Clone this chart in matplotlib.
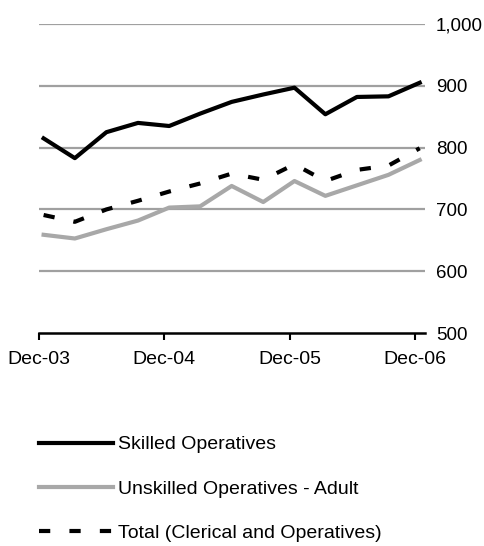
import numpy as np
import pandas as pd
import matplotlib
matplotlib.use('Agg')
import matplotlib.pyplot as plt
import matplotlib.dates as mdates
from matplotlib.ticker import FuncFormatter

plt.rcParams['font.family'] = ['Liberation Sans', 'DejaVu Sans']

# quarterly observations, Dec-03 .. Dec-06
dates = pd.date_range('2003-12-15', periods=13, freq=pd.DateOffset(months=3))
skilled = [815, 783, 825, 840, 835, 855, 874, 886, 897, 854, 882, 883, 905]
unskilled = [659, 653, 668, 682, 703, 705, 738, 712, 746, 722, 739, 756, 780]
total = [691, 680, 700, 714, 729, 742, 758, 748, 773, 746, 764, 771, 799]
labels = ['Skilled Operatives', 'Unskilled Operatives - Adult',
          'Total (Clerical and Operatives)']
tick_dates = pd.to_datetime(['2003-12-01', '2004-12-01', '2005-12-01', '2006-12-01'])

fig = plt.figure(figsize=(4.85, 5.46), dpi=100)
ax = fig.add_axes([0.080, 0.390, 0.796, 0.566])

for v in range(600, 1001, 100):
    ax.axhline(v, color='#a0a0a0', lw=1.6, zorder=1)

ax.plot(dates, skilled, color='black', lw=3.0, label=labels[0], zorder=3)
ax.plot(dates, unskilled, color='#a8a8a8', lw=3.0, label=labels[1], zorder=2)
ax.plot(dates, total, color='black', lw=3.0, dashes=(2.7, 4.6),
        label=labels[2], zorder=3)

ax.set_ylim(500, 1000)
ax.set_xlim(pd.Timestamp('2003-12-01'), pd.Timestamp('2006-12-30'))
ax.set_xticks(tick_dates)
ax.xaxis.set_major_formatter(mdates.DateFormatter('Dec-%y'))

ax.yaxis.tick_right()
ax.set_yticks(range(500, 1001, 100))
ax.yaxis.set_major_formatter(FuncFormatter(lambda v, p: f'{int(v):,}'))
ax.tick_params(axis='y', length=0, pad=8, labelsize=13.5)
ax.tick_params(axis='x', length=5, width=1.5, direction='out', pad=8, labelsize=14)

for s in ['top', 'left', 'right']:
    ax.spines[s].set_visible(False)
ax.spines['bottom'].set_linewidth(1.8)
ax.spines['bottom'].set_zorder(4)

fig.legend(loc='upper left', bbox_to_anchor=(0.064, 0.216), frameon=False,
           fontsize=14, handlelength=3.8, handletextpad=0.25,
           labelspacing=1.37, borderaxespad=0)

fig.savefig('out.png', dpi=100)
